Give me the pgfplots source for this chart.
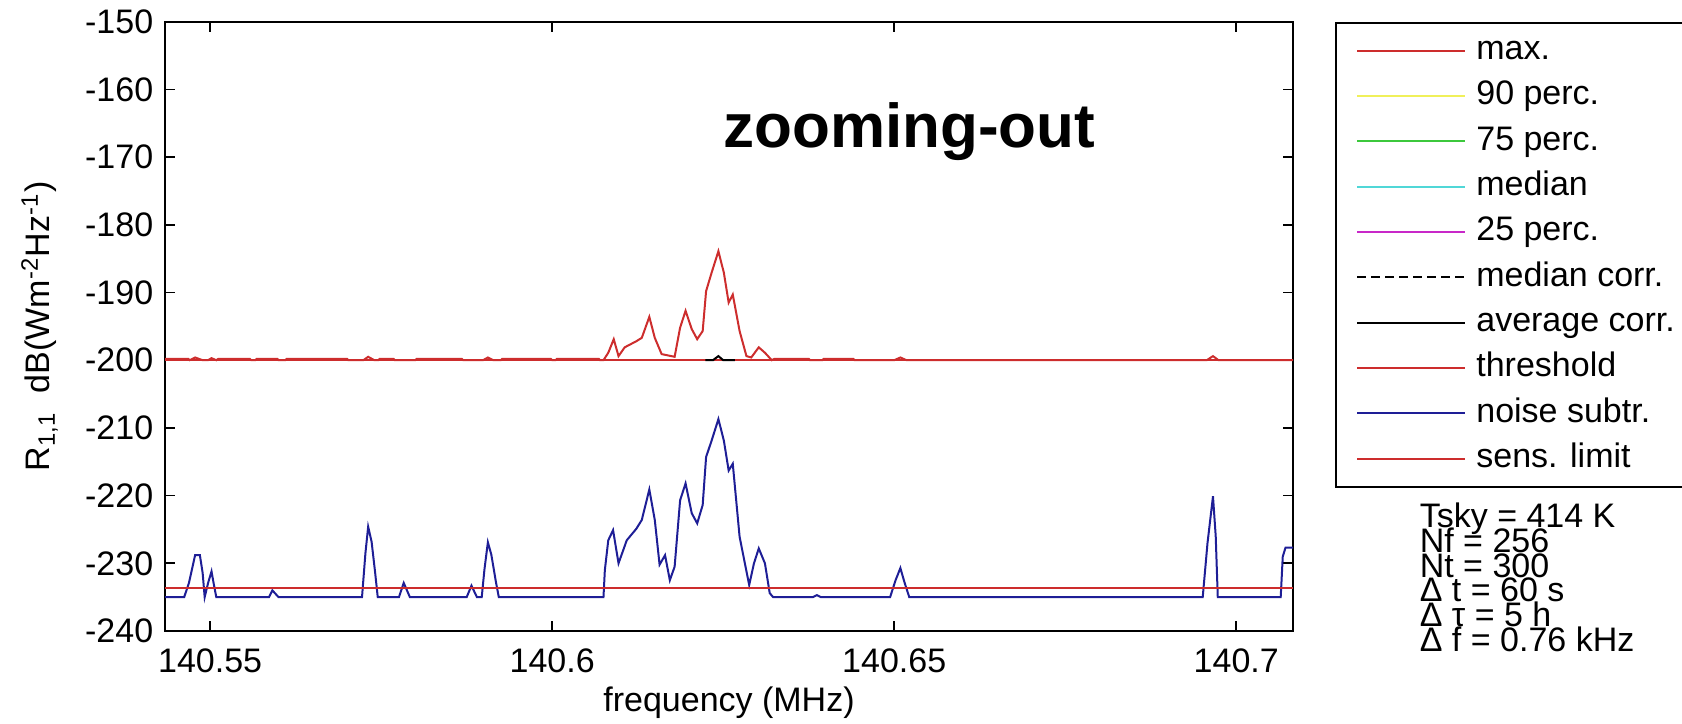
\documentclass[border=0pt]{standalone}
\usepackage{fontspec}
\setmainfont{Liberation Sans}
\usepackage{pgfplots}
\pgfplotsset{compat=1.18}

\definecolor{mred}{RGB}{205,45,45}
\definecolor{mblue}{RGB}{30,30,150}
\definecolor{myellow}{RGB}{240,240,90}
\definecolor{mgreen}{RGB}{60,200,60}
\definecolor{mcyan}{RGB}{80,215,215}
\definecolor{mmagenta}{RGB}{200,40,200}

\newcommand{\tf}{\fontsize{10.2}{12}\selectfont}

\begin{document}
\begin{tikzpicture}[font=\tf]
\begin{axis}[
    name=ax,
    scale only axis,
    width=338.4pt, height=182.8pt,
    xmin=140.5434, xmax=140.7083,
    ymin=-240, ymax=-150,
    enlargelimits=false,
    axis line style={black, line width=0.6pt},
    tick align=inside,
    major tick length=3pt,
    tick style={black, line width=0.5pt},
    xtick={140.55,140.6,140.65,140.7},
    xticklabels={140.55,140.6,140.65,140.7},
    ytick={-240,-230,-220,-210,-200,-190,-180,-170,-160,-150},
    yticklabels={-240,-230,-220,-210,-200,-190,-180,-170,-160,-150},
    xticklabel style={yshift=-1.7pt},
    tick label style={font=\tf},
    label style={font=\tf},
    xlabel={frequency (MHz)},
    xlabel style={at={([yshift=-24.2pt]axis description cs:0.5,0)}, anchor=base},
    ylabel={R\textsubscript{1,1}\ \ dB(Wm\textsuperscript{-2}Hz\textsuperscript{-1})},
    ylabel style={at={([xshift=-34.5pt]axis description cs:0,0.5)}, anchor=base},
    every axis plot/.append style={line width=0.6pt},
    legend image code/.code={\draw[#1] (0pt,0pt) -- (32.3pt,0pt);},
    legend cell align=left,
    legend style={at={([xshift=12.6pt]axis description cs:1,1)}, anchor=north west,
        draw=black, line width=0.6pt, inner xsep=6pt, inner ysep=3.6pt,
        row sep=4pt, font=\tf,
        nodes={inner sep=0pt, text height=7.4pt, text depth=2.2pt},
        /tikz/every odd column/.append style={column sep=3.2pt}},
]
% legend entries
\addlegendimage{mred, line width=0.6pt}\addlegendentry{max.}
\addlegendimage{myellow, line width=0.6pt}\addlegendentry{90 perc.}
\addlegendimage{mgreen, line width=0.6pt}\addlegendentry{75 perc.}
\addlegendimage{mcyan, line width=0.6pt}\addlegendentry{median}
\addlegendimage{mmagenta, line width=0.6pt}\addlegendentry{25 perc.}
\addlegendimage{black, line width=0.6pt, dash pattern=on 2.6pt off 1.6pt}\addlegendentry{median corr.}
\addlegendimage{black, line width=0.6pt}\addlegendentry{average corr.}
\addlegendimage{mred, line width=0.6pt}\addlegendentry{threshold}
\addlegendimage{mblue, line width=0.6pt}\addlegendentry{noise subtr.}
\addlegendimage{mred, line width=0.6pt}\addlegendentry{sens. limit}

% threshold
\addplot[mred, forget plot] coordinates {(140.5434,-200) (140.7083,-200)};
% max.
\addplot[mred, forget plot] coordinates {
(140.5434,-199.8) (140.5468,-199.8) (140.5470,-200) (140.5478,-199.6) (140.5489,-200) (140.5497,-200)
(140.5502,-199.7) (140.5509,-200) (140.5512,-199.8) (140.5558,-199.8) (140.5560,-200)
(140.5566,-200) (140.5568,-199.8) (140.5598,-199.8) (140.5600,-200) (140.5610,-200)
(140.5612,-199.8) (140.5700,-199.8) (140.5702,-200)
(140.5724,-200) (140.5731,-199.5) (140.5740,-200) (140.5746,-200) (140.5748,-199.8)
(140.5768,-199.8) (140.5770,-200) (140.5800,-200) (140.5802,-199.8) (140.5868,-199.8)
(140.5870,-200)
(140.5899,-200) (140.5906,-199.6) (140.5914,-200) (140.5925,-200) (140.5927,-199.8)
(140.5998,-199.8) (140.6000,-200) (140.6005,-200) (140.6007,-199.8) (140.6068,-199.8)
(140.6070,-200) (140.6075,-200)
(140.6082,-198.9) (140.6090,-196.9) (140.6097,-199.4) (140.6106,-198.1)
(140.6123,-197.2) (140.6131,-196.7) (140.6142,-193.6) (140.6150,-196.7)
(140.6160,-199.1) (140.6179,-199.5) (140.6187,-195.2) (140.6195,-192.7)
(140.6204,-195.4) (140.6212,-196.9) (140.6220,-195.7) (140.6225,-189.8)
(140.6233,-187.1) (140.6243,-183.9) (140.6251,-187.1) (140.6258,-191.5)
(140.6264,-190.3) (140.6274,-195.7) (140.6284,-199.4) (140.6291,-199.6)
(140.6302,-198.1) (140.6311,-198.9) (140.6321,-200)
(140.6325,-199.8) (140.6375,-199.8) (140.6377,-200) (140.6395,-200) (140.6397,-199.8)
(140.6440,-199.8) (140.6442,-200)
(140.6500,-200) (140.6509,-199.6) (140.6518,-200)
(140.6957,-200) (140.6966,-199.4) (140.6974,-200) (140.7083,-200)};
% average corr.
\addplot[black, forget plot] coordinates {
(140.6224,-200) (140.6235,-200) (140.6243,-199.4) (140.6250,-200) (140.6267,-200)};
% noise subtr.
\addplot[mblue, forget plot] coordinates {
(140.5434,-235) (140.5462,-235) (140.5469,-232.9) (140.5478,-228.8) (140.5485,-228.8)
(140.5489,-231.4) (140.5492,-235) (140.5497,-232.9) (140.5502,-231.2) (140.5505,-232.9)
(140.5509,-235) (140.5586,-235) (140.5591,-234.0) (140.5600,-235) (140.5722,-235)
(140.5727,-228.5) (140.5731,-224.6) (140.5736,-226.8) (140.5741,-231.2) (140.5745,-235)
(140.5776,-235) (140.5783,-232.9) (140.5792,-235) (140.5875,-235) (140.5882,-233.3)
(140.5890,-235) (140.5897,-235) (140.5901,-230.9) (140.5906,-226.9) (140.5911,-228.7)
(140.5918,-232.9) (140.5922,-235) (140.6075,-235) (140.6077,-231) (140.6082,-226.6)
(140.6089,-225.1) (140.6097,-230.0) (140.6109,-226.6) (140.6123,-224.9) (140.6131,-223.6)
(140.6142,-219.1) (140.6150,-223.6) (140.6157,-230.2) (140.6165,-228.8) (140.6172,-232.5)
(140.6179,-230.5) (140.6187,-220.7) (140.6195,-218.2) (140.6204,-222.6) (140.6212,-224.1)
(140.6220,-221.4) (140.6225,-214.3) (140.6233,-211.9) (140.6243,-208.7) (140.6251,-211.9)
(140.6258,-216.3) (140.6264,-215.3) (140.6274,-226.1) (140.6288,-233.2) (140.6295,-230.0)
(140.6302,-227.8) (140.6311,-230.0) (140.6318,-234.4) (140.6323,-235) (140.6381,-235)
(140.6387,-234.7) (140.6393,-235) (140.6494,-235) (140.6502,-232.5) (140.6509,-230.7)
(140.6515,-232.8) (140.6522,-235) (140.6951,-235) (140.6958,-227) (140.6966,-220.1)
(140.6970,-226) (140.6973,-235) (140.7065,-235) (140.7068,-229) (140.7072,-227.7)
(140.7083,-227.7)};
% sens. limit
\addplot[mred, forget plot] coordinates {(140.5434,-233.6) (140.7083,-233.6)};

\node[font=\bfseries\fontsize{18.6}{20}\selectfont, anchor=base] at (axis cs:140.6522,-168.6) {zooming-out};
\end{axis}

\node[anchor=base west] at ([xshift=34.5pt, yshift=31.1pt]ax.south east) {Tsky = 414 K};
\node[anchor=base west] at ([xshift=34.5pt, yshift=23.64pt]ax.south east) {Nf = 256};
\node[anchor=base west] at ([xshift=34.5pt, yshift=16.18pt]ax.south east) {Nt = 300};
\node[anchor=base west] at ([xshift=34.5pt, yshift=8.72pt]ax.south east) {Δ t = 60 s};
\node[anchor=base west] at ([xshift=34.5pt, yshift=1.26pt]ax.south east) {Δ τ = 5 h};
\node[anchor=base west] at ([xshift=34.5pt, yshift=-6.2pt]ax.south east) {Δ f = 0.76 kHz};

\pgfresetboundingbox
\path[use as bounding box] ([xshift=-49.5pt, yshift=-27.6pt]ax.south west) rectangle ++(504.6pt,216.9pt);
\end{tikzpicture}
\end{document}
